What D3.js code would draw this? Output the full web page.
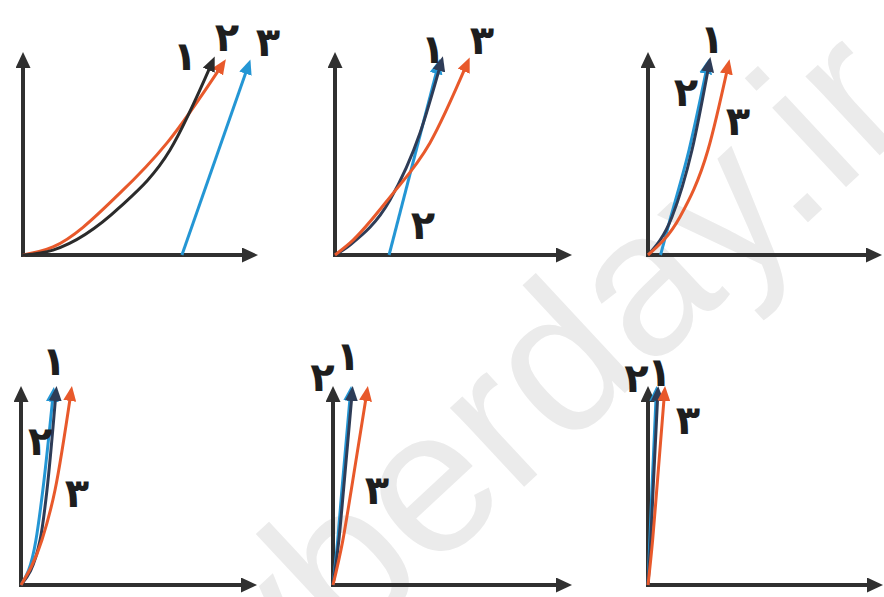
<!DOCTYPE html>
<html>
<head>
<meta charset="utf-8">
<script src="https://cdn.jsdelivr.net/npm/d3@7"></script>
<style>
  html, body { margin: 0; padding: 0; background: #fff; }
  svg { display: block; }
</style>
</head>
<body>
<svg id="chart" width="884" height="597"></svg>
<script>
// Curve labels (Persian digits) for the three series
const seriesLabels = ["\u06F1", "\u06F2", "\u06F3"];

// Each panel: points [x, y] in axis units (0..10) for series 1, 2, 3
const panelA_s1 = [[0, 0], [1.31, 0.25], [4.24, 2.44], [6.42, 5.33], [8.25, 9.75]];
const panelA_s2 = [[0, 0], [1.31, 0.41], [4.24, 3.15], [6.29, 5.69], [8.69, 9.64]];
const panelA_s3 = [[6.94, 0], [9.83, 9.59]];

const panelB_s1 = [[0, 0], [0.65, 0.51], [2.38, 2.79], [3.68, 6.19], [4.59, 9.75]];
const panelB_s2 = [[2.34, 0], [4.46, 9.6]];
const panelB_s3 = [[0, 0], [0.65, 0.61], [2.38, 2.94], [4.11, 5.69], [5.71, 9.7]];

const panelC_s1 = [[0, 0], [1.05, 1.93], [1.93, 5.33], [2.68, 9.7]];
const panelC_s2 = [[0.55, 0], [1.0, 1.93], [1.8, 5.33], [2.6, 9.6]];
const panelC_s3 = [[0, 0], [1.4, 1.93], [2.63, 5.33], [3.51, 9.59]];

const panelD_s1 = [[0, 0], [0.83, 2.33], [1.13, 4.92], [1.52, 9.95]];
const panelD_s2 = [[0, 0], [0.65, 2.33], [0.95, 4.92], [1.4, 9.9]];
const panelD_s3 = [[0, 0], [0.91, 2.33], [1.48, 4.92], [2.17, 9.95]];

const panelE_s1 = [[0, 0], [0.25, 2.3], [0.45, 4.9], [0.82, 9.95]];
const panelE_s2 = [[0, 0], [0.2, 2.3], [0.38, 4.9], [0.75, 9.95]];
const panelE_s3 = [[0, 0], [0.42, 2.3], [0.78, 4.9], [1.45, 9.95]];

const panelF_s1 = [[0, 0], [0.12, 2.3], [0.22, 4.9], [0.43, 9.95]];
const panelF_s2 = [[0, 0], [0.08, 2.3], [0.17, 4.9], [0.36, 9.95]];
const panelF_s3 = [[0, 0], [0.2, 2.3], [0.38, 4.9], [0.72, 9.95]];

// Label anchor points (axis units) for series 1, 2, 3 in each panel
const labelsA = [[7.07, 10.1], [8.91, 11.07], [10.7, 10.8]];
const labelsB = [[4.24, 10.46], [3.81, 1.52], [6.36, 10.91]];
const labelsC = [[2.81, 10.96], [1.67, 8.27], [3.95, 6.8]];
const labelsD = [[1.43, 11.6], [0.83, 7.46], [2.43, 4.77]];
const labelsE = [[0.64, 11.87], [-0.45, 10.78], [1.89, 4.92]];
const labelsF = [[0.5, 11.04], [-0.5, 10.73], [1.75, 8.55]];

// Layout: origin and axis end (pixels) of every panel, plus series colours
const colors = { black: "#2b2b2b", navy: "#2e3c57", blue: "#2496d4", orange: "#e8592b", axis: "#303030" };

const panels = [
  { frame: { ox: 23, oy: 255, xe: 252, ye: 58 },  series: [panelA_s1, panelA_s2, panelA_s3], colors: [colors.black, colors.orange, colors.blue], labels: labelsA },
  { frame: { ox: 335, oy: 255, xe: 566, ye: 58 }, series: [panelB_s1, panelB_s2, panelB_s3], colors: [colors.navy, colors.blue, colors.orange], labels: labelsB },
  { frame: { ox: 648, oy: 255, xe: 876, ye: 58 }, series: [panelC_s1, panelC_s2, panelC_s3], colors: [colors.navy, colors.blue, colors.orange], labels: labelsC },
  { frame: { ox: 21, oy: 585, xe: 251, ye: 392 }, series: [panelD_s1, panelD_s2, panelD_s3], colors: [colors.navy, colors.blue, colors.orange], labels: labelsD },
  { frame: { ox: 333, oy: 585, xe: 566, ye: 392 }, series: [panelE_s1, panelE_s2, panelE_s3], colors: [colors.navy, colors.blue, colors.orange], labels: labelsE },
  { frame: { ox: 648, oy: 585, xe: 877, ye: 392 }, series: [panelF_s1, panelF_s2, panelF_s3], colors: [colors.navy, colors.blue, colors.orange], labels: labelsF }
];

const svg = d3.select("#chart");

// Faint diagonal site watermark behind the diagrams
svg.append("text")
  .attr("transform", "translate(272,722) rotate(-43)")
  .attr("font-family", "Liberation Sans, Arial, sans-serif")
  .attr("font-size", 205)
  .attr("fill", "#ebebeb")
  .text("yberday.ir");

// Arrowhead markers, one per colour
const defs = svg.append("defs");
function marker(id, color, w, h, ref) {
  defs.append("marker")
    .attr("id", id)
    .attr("viewBox", `0 0 ${w} ${h}`)
    .attr("refX", ref).attr("refY", h / 2)
    .attr("markerWidth", w).attr("markerHeight", h)
    .attr("markerUnits", "userSpaceOnUse")
    .attr("orient", "auto")
    .append("path")
    .attr("d", `M0,0L${w},${h / 2}L0,${h}Z`)
    .attr("fill", color);
}
marker("arrow-axis", colors.axis, 16, 15, 10);
const colorIds = {};
Object.entries(colors).forEach(([k, c]) => {
  if (k === "axis") return;
  colorIds[c] = "arrow-" + k;
  marker("arrow-" + k, c, 15, 13, 8);
});

const drawOrder = [1, 0, 2];

panels.forEach(p => {
  const f = p.frame;
  const x = d3.scaleLinear().domain([0, 10]).range([f.ox, f.xe]);
  const y = d3.scaleLinear().domain([0, 10]).range([f.oy, f.ye]);
  const g = svg.append("g");

  // Axes
  g.append("line")
    .attr("x1", x(0) - 2).attr("y1", y(0)).attr("x2", x(10)).attr("y2", y(0))
    .attr("stroke", colors.axis).attr("stroke-width", 4)
    .attr("marker-end", "url(#arrow-axis)");
  g.append("line")
    .attr("x1", x(0)).attr("y1", y(0) + 2).attr("x2", x(0)).attr("y2", y(10))
    .attr("stroke", colors.axis).attr("stroke-width", 4)
    .attr("marker-end", "url(#arrow-axis)");

  // Curves
  const line = d3.line().x(d => x(d[0])).y(d => y(d[1])).curve(d3.curveMonotoneX);
  drawOrder.forEach(i => {
    g.append("path")
      .attr("d", line(p.series[i]))
      .attr("fill", "none")
      .attr("stroke", p.colors[i])
      .attr("stroke-width", 3)
      .attr("marker-end", `url(#${colorIds[p.colors[i]]})`);
  });

  // Series labels
  p.labels.forEach((pos, i) => {
    g.append("text")
      .attr("x", x(pos[0])).attr("y", y(pos[1]))
      .attr("text-anchor", "middle")
      .attr("dominant-baseline", "central")
      .attr("font-family", "DejaVu Sans, sans-serif")
      .attr("font-weight", "bold")
      .attr("font-size", 40)
      .attr("fill", "#1e1e1e")
      .text(seriesLabels[i]);
  });
});
</script>
</body>
</html>
